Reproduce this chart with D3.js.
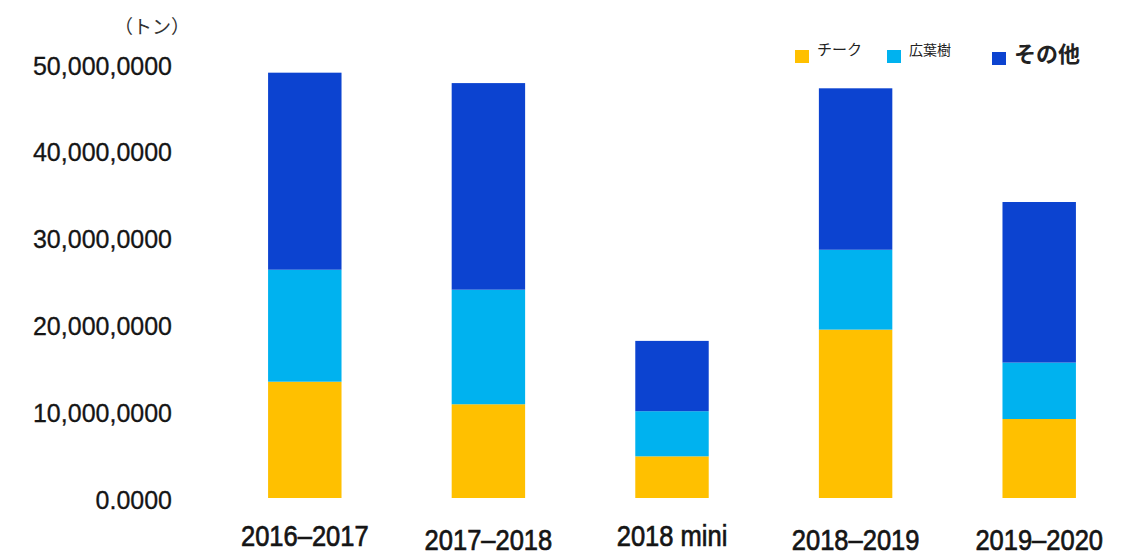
<!DOCTYPE html>
<html><head><meta charset="utf-8">
<script src="https://cdn.jsdelivr.net/npm/d3@7"></script>
<style>body{margin:0;background:#fff}svg{display:block}</style>
</head><body>
<svg id="c" width="1129" height="556"></svg>
<script>
const categories = ["2016\u20132017","2017\u20132018","2018 mini","2018\u20132019","2019\u20132020"];
const seriesNames = ["チーク","広葉樹","その他"];
const teak = [13400000,10800000,4800000,19400000,9100000];
const broadleaf = [12900000,13200000,5200000,9200000,6500000];
const other = [22700000,23800000,8100000,18600000,18500000];
const tickValues = [0,10000000,20000000,30000000,40000000,50000000];
const tickLabels = ["0.0000","10,000,0000","20,000,0000","30,000,0000","40,000,0000","50,000,0000"];
const unitLabel = "（トン）";

const colors = ["#FFC000","#00B2EF","#0C43D0"];
const svg = d3.select("#c");
const y = d3.scaleLinear().domain([0,50000000]).range([498,64]);
const x = d3.scaleBand().domain(categories).range([213,1131]).paddingInner(0.6).paddingOuter(0.3);

const rows = categories.map((c,i)=>({cat:c, "チーク":teak[i], "広葉樹":broadleaf[i], "その他":other[i]}));
const stacked = d3.stack().keys(seriesNames)(rows);

svg.append("g").selectAll("g").data(stacked).join("g")
  .attr("fill",(d,i)=>colors[i])
  .selectAll("rect").data(d=>d).join("rect")
  .attr("x",d=>x(d.data.cat))
  .attr("width",x.bandwidth())
  .attr("y",d=>y(d[1]))
  .attr("height",d=>y(d[0])-y(d[1]));

// y axis
const yAxis = d3.axisLeft(y).tickValues(tickValues).tickFormat((d,i)=>tickLabels[i]).tickSize(0).tickPadding(0);
const gy = svg.append("g").attr("transform","translate(172,0)").call(yAxis);
gy.select(".domain").remove();
gy.selectAll("text").attr("font-family","'Liberation Sans', Arial, sans-serif").attr("font-size",25).attr("fill","#151515").attr("dy","0.4em")
  .attr("stroke","#151515").attr("stroke-width",0.3);

// x axis
const xBase = [546,550,546,550,550];
const xAxis = d3.axisBottom(x).tickSize(0).tickPadding(0);
const gx = svg.append("g").call(xAxis);
gx.select(".domain").remove();
gx.selectAll("text").attr("font-family","'Liberation Sans', Arial, sans-serif").attr("font-size",29).attr("fill","#151515")
  .attr("stroke","#151515").attr("stroke-width",0.7)
  .attr("dy",null).attr("y",0)
  .attr("transform",(d,i)=>`translate(0,${xBase[i]}) scale(0.88,1)`);

svg.append("text").attr("x",114).attr("y",34).attr("font-family","'Noto Sans CJK JP', sans-serif").attr("font-size",19).attr("fill","#333").text(unitLabel);

// legend
const legX = [795,887,992];
const legFont = [15,14,22];
const lg = svg.append("g");
seriesNames.forEach((n,i)=>{
  lg.append("rect").attr("x",legX[i]).attr("y",i===2?52:50).attr("width",14).attr("height",13).attr("fill",colors[i]);
  lg.append("text").attr("x",legX[i]+22).attr("y",i===2?62:55).attr("font-family","'Noto Sans CJK JP', sans-serif")
    .attr("font-size",legFont[i]).attr("font-weight",i===2?"bold":"normal").attr("fill","#222").text(n);
});
</script>
</body></html>
